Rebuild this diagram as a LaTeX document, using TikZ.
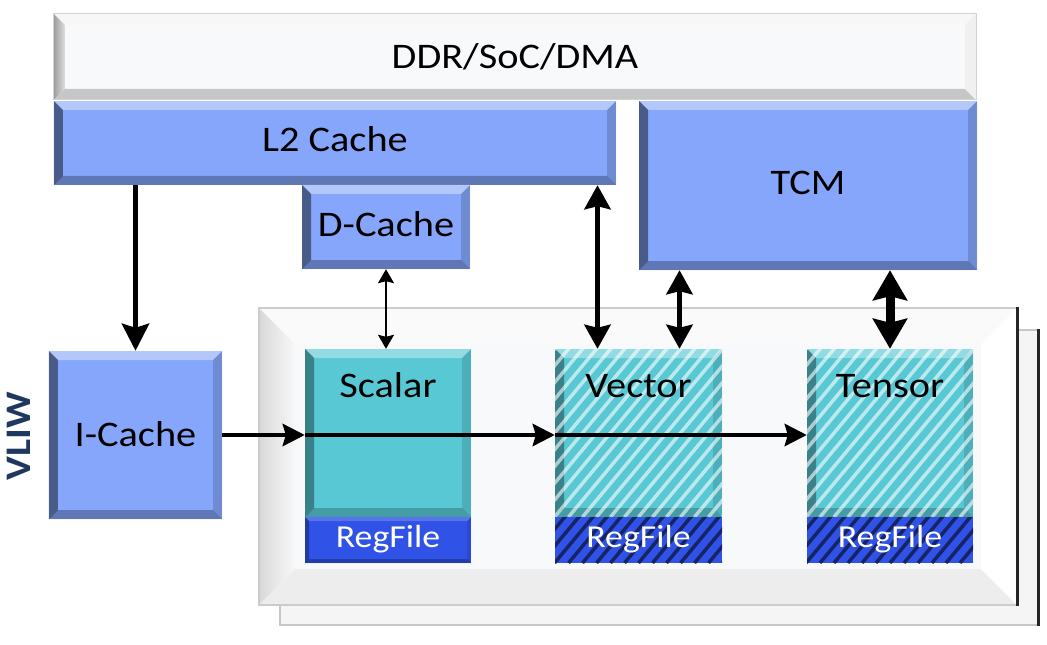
\documentclass[tikz,border=0pt]{standalone}
\usepackage{fontspec}
\setmainfont[FakeStretch=1.12]{Carlito}
\usetikzlibrary{arrows.meta,calc}
\definecolor{bluebase}{RGB}{133,166,250}
\definecolor{tealbase}{RGB}{88,200,212}
\definecolor{regblue}{RGB}{48,82,230}
\definecolor{navy}{RGB}{18,28,80}
\definecolor{vliwc}{RGB}{31,56,96}
\definecolor{ddrbase}{RGB}{248,249,251}
\definecolor{framebase}{RGB}{248,249,251}
\newcommand\bevelpic[5]{%
  \path[#2] (path picture bounding box.north west) -- (path picture bounding box.north east)
     -- ([shift={(-#1,-#1)}]path picture bounding box.north east) -- ([shift={(#1,-#1)}]path picture bounding box.north west) -- cycle;
  \path[#3] (path picture bounding box.north west) -- ([shift={(#1,-#1)}]path picture bounding box.north west)
     -- ([shift={(#1,#1)}]path picture bounding box.south west) -- (path picture bounding box.south west) -- cycle;
  \path[#4] (path picture bounding box.south west) -- ([shift={(#1,#1)}]path picture bounding box.south west)
     -- ([shift={(-#1,#1)}]path picture bounding box.south east) -- (path picture bounding box.south east) -- cycle;
  \path[#5] (path picture bounding box.south east) -- ([shift={(-#1,#1)}]path picture bounding box.south east)
     -- ([shift={(-#1,-#1)}]path picture bounding box.north east) -- (path picture bounding box.north east) -- cycle;
}
\newcommand\hatchpic[1]{%
  \foreach \i in {-280,-266,...,120}{\draw[#1] ([xshift=\i bp]path picture bounding box.south) -- ++(200bp,240bp);}%
}
\tikzset{
  block/.style={rectangle, inner sep=0pt, text height=23bp, text depth=0bp},
  bluebox/.style={block, fill=bluebase, path picture={\bevelpic{9bp}{fill=white,fill opacity=.38}{fill=black,fill opacity=.45}{fill=black,fill opacity=.28}{fill=black,fill opacity=.16}}},
  ddrbox/.style={block, fill=ddrbase, draw=gray!35, line width=1bp, path picture={\bevelpic{11bp}{fill=gray!6}{left color=gray!75,right color=gray!25}{fill=gray!45}{fill=gray!12}}},
  tealbox/.style={rectangle, inner sep=0pt, text height=48bp, text depth=120bp, fill=tealbase, path picture={\bevelpic{9bp}{fill=white,fill opacity=.35}{fill=black,fill opacity=.35}{fill=black,fill opacity=.22}{fill=black,fill opacity=.12}}},
  tealhatch/.style={tealbox, path picture={\bevelpic{9bp}{fill=white,fill opacity=.35}{fill=black,fill opacity=.35}{fill=black,fill opacity=.22}{fill=black,fill opacity=.12}\hatchpic{draw=white,draw opacity=.6,line width=3.5bp}}},
  regbox/.style={rectangle, inner sep=0pt, text height=30bp, text depth=16bp, fill=regblue, text=white, font=\fontsize{32bp}{36bp}\selectfont, path picture={\bevelpic{4bp}{fill=white,fill opacity=.2}{fill=black,fill opacity=.3}{fill=black,fill opacity=.25}{fill=black,fill opacity=.1}}},
  reghatch/.style={regbox, path picture={\hatchpic{draw=navy,draw opacity=.85,line width=3.5bp}}},
  framebox/.style={rectangle, inner sep=0pt, fill=framebase, draw=gray!40, line width=1.5bp, path picture={\bevelpic{36bp}{fill=gray!4}{left color=gray!30,right color=gray!6}{fill=gray!14}{fill=white}}},
  backframe/.style={rectangle, inner sep=0pt, fill=gray!8, draw=gray!45, line width=1.5bp},
  edgeline/.style={line width=3bp, draw=gray!30!black},
  arrS/.style={line width=5.5bp, -{Stealth[length=27bp,width=27bp,inset=4bp]}},
  arrD/.style={line width=5.5bp, {Stealth[length=24bp,width=26bp,inset=3bp]}-{Stealth[length=24bp,width=26bp,inset=3bp]}},
  arrDD/.style={line width=9bp, {Stealth[length=30bp,width=34bp,inset=4bp]}-{Stealth[length=30bp,width=34bp,inset=4bp]}},
  arrT/.style={line width=1.5bp, {Stealth[length=14bp,width=16bp,inset=2bp]}-{Stealth[length=14bp,width=16bp,inset=2bp]}},
  arrH/.style={line width=4.5bp, -{Stealth[length=22bp,width=22bp,inset=3bp]}},
}
\begin{document}
\begin{tikzpicture}[x=1bp,y=-1bp,font=\fontsize{36bp}{40bp}\selectfont]
\useasboundingbox[fill=white] (0,0) rectangle (1047,645);
% frames
\node[backframe, minimum width=758bp, minimum height=295bp] (back) at (659,477.5) {};
\draw[edgeline] (back.north east) -- (back.south east);
\node[framebox, minimum width=758bp, minimum height=297bp] (front) at (638,456.5) {};
\draw[edgeline] (front.north east) -- (front.south east);
% memory blocks
\node[ddrbox, minimum width=922bp, minimum height=86bp] (ddr) at (515,57) {DDR/SoC/DMA};
\node[bluebox, minimum width=562bp, minimum height=84bp, text depth=6bp] (l2) at (335,143) {L2 Cache};
\node[bluebox, minimum width=338bp, minimum height=169bp, text depth=5bp] (tcm) at (808,185.5) {TCM};
\node[bluebox, minimum width=168bp, minimum height=84bp, text depth=4bp] (dcache) at (386,227) {D-Cache};
\node[bluebox, minimum width=173bp, minimum height=168bp] (icache) at (135.5,435) {I-Cache};
% units
\node[tealbox, minimum width=166bp, minimum height=168bp] (scalar) at (388,433) {Scalar};
\node[regbox, minimum width=166bp, minimum height=46bp] (scalarreg) at (388,540) {RegFile};
\node[tealhatch, minimum width=167bp, minimum height=168bp] (vector) at (638.5,433) {Vector};
\node[reghatch, minimum width=167bp, minimum height=46bp] (vectorreg) at (638.5,540) {RegFile};
\node[tealhatch, minimum width=166bp, minimum height=168bp] (tensor) at (890,433) {Tensor};
\node[reghatch, minimum width=166bp, minimum height=46bp] (tensorreg) at (890,540) {RegFile};
% label
\node[rotate=90, font=\fontsize{36bp}{40bp}\selectfont\bfseries, text=vliwc, inner sep=0pt] (vliw) at (19,436) {VLIW};
% connectors
\coordinate (v1) at ([xshift=-41bp]vector.north);
\coordinate (v2) at ([xshift=41bp]vector.north);
\draw[arrS] (icache.north |- l2.south) -- (icache.north);
\draw[arrT] (dcache.south) -- (dcache.south |- scalar.north);
\draw[arrD] (v1 |- l2.south) -- (v1);
\draw[arrD] (v2 |- tcm.south) -- (v2);
\draw[arrDD] (tensor.north |- tcm.south) -- (tensor.north);
\draw[arrH] (icache.east) -- (icache.east -| scalar.west);
\draw[arrH] (icache.east -| scalar.west) -- (icache.east -| vector.west);
\draw[arrH] (icache.east -| vector.west) -- (icache.east -| tensor.west);
\end{tikzpicture}
\end{document}
